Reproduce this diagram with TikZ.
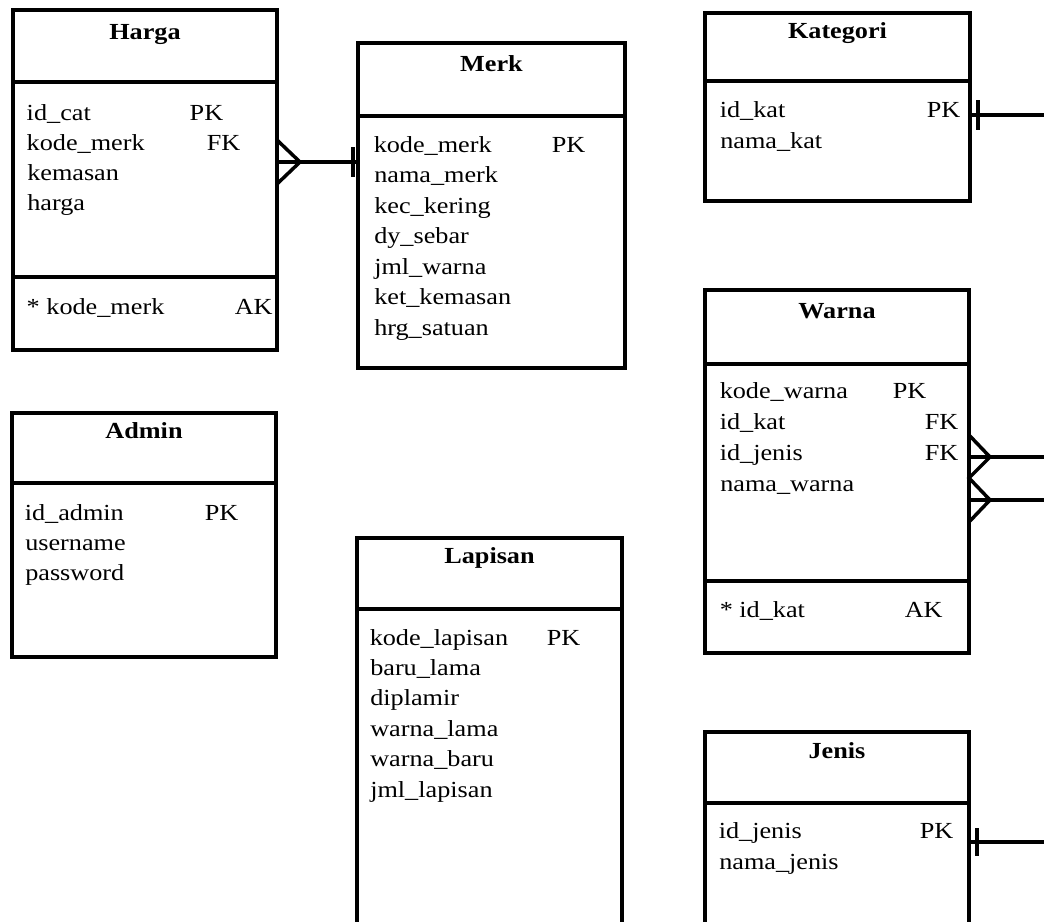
\documentclass[tikz,border=0pt]{standalone}
\usepackage{fontspec}
\setmainfont{Liberation Serif}[FakeStretch=1.14]
\tikzset{
  tbl/.style={draw, line width=3.5pt, anchor=north west, inner sep=0pt, outer sep=0pt},
  ttl/.style={anchor=base, inner sep=0pt, font=\fontsize{23}{30}\selectfont\bfseries},
  row/.style={anchor=base west, inner sep=0pt}
}
\begin{document}
\begin{tikzpicture}[x=1pt, y=-1pt, line width=3.5pt, font=\fontsize{23}{30}\selectfont]
    \useasboundingbox (0,0) rectangle (1044,921);
    \clip (0,0) rectangle (1044,921);

    \node[tbl, minimum width=264, minimum height=340] (harga) at (13,10) {};
    \draw (harga.west |- 0,82) -- (harga.east |- 0,82);
    \draw (harga.west |- 0,277) -- (harga.east |- 0,277);
    \node[ttl] (hargaT) at (harga.north |- 0,39) {Harga};
    \foreach \n/\w/\k [count=\i] in {id\_cat/163pt/PK, kode\_merk/180pt/FK, kemasan/0pt/{}, harga/0pt/{}}
      \node[row] (harga-\i) at (25,{90+30*\i}) {\makebox[\w][l]{\n}\k};
    \node[row] (hargaAK) at (25,314) {\makebox[208pt][l]{* kode\_merk}AK};

    \node[tbl, minimum width=267, minimum height=325] (merk) at (358,43) {};
    \draw (merk.west |- 0,116) -- (merk.east |- 0,116);
    \node[ttl] (merkT) at (merk.north |- 0,71) {Merk};
    \foreach \n/\w/\k [count=\i] in {kode\_merk/178pt/PK, nama\_merk/0pt/{}, kec\_kering/0pt/{}, dy\_sebar/0pt/{}, jml\_warna/0pt/{}, ket\_kemasan/0pt/{}, hrg\_satuan/0pt/{}}
      \node[row] (merk-\i) at (372,{121.5+30.5*\i}) {\makebox[\w][l]{\n}\k};

    \node[tbl, minimum width=264, minimum height=244] (admin) at (12,413) {};
    \draw (admin.west |- 0,483) -- (admin.east |- 0,483);
    \node[ttl] (adminT) at (admin.north |- 0,438) {Admin};
    \foreach \n/\w/\k [count=\i] in {id\_admin/180pt/PK, username/0pt/{}, password/0pt/{}}
      \node[row] (admin-\i) at (23,{490+30*\i}) {\makebox[\w][l]{\n}\k};

    \node[tbl, minimum width=265, minimum height=420] (lapisan) at (357,538) {};
    \draw (lapisan.west |- 0,609) -- (lapisan.east |- 0,609);
    \node[ttl] (lapisanT) at (lapisan.north |- 0,563) {Lapisan};
    \foreach \n/\w/\k [count=\i] in {kode\_lapisan/177pt/PK, baru\_lama/0pt/{}, diplamir/0pt/{}, warna\_lama/0pt/{}, warna\_baru/0pt/{}, jml\_lapisan/0pt/{}}
      \node[row] (lapisan-\i) at (368,{614.6+30.4*\i}) {\makebox[\w][l]{\n}\k};

    \node[tbl, minimum width=265, minimum height=188] (kategori) at (705,13) {};
    \draw (kategori.west |- 0,81) -- (kategori.east |- 0,81);
    \node[ttl] (kategoriT) at (kategori.north |- 0,38) {Kategori};
    \foreach \n/\w/\k [count=\i] in {id\_kat/207pt/PK, nama\_kat/0pt/{}}
      \node[row] (kategori-\i) at (718,{86+31*\i}) {\makebox[\w][l]{\n}\k};

    \node[tbl, minimum width=264, minimum height=363] (warna) at (705,290) {};
    \draw (warna.west |- 0,364) -- (warna.east |- 0,364);
    \draw (warna.west |- 0,581) -- (warna.east |- 0,581);
    \node[ttl] (warnaT) at (warna.north |- 0,318) {Warna};
    \foreach \n/\w/\k [count=\i] in {kode\_warna/173pt/PK, id\_kat/205pt/FK, id\_jenis/205pt/FK, nama\_warna/0pt/{}}
      \node[row] (warna-\i) at (718,{367+31*\i}) {\makebox[\w][l]{\n}\k};
    \node[row] (warnaAK) at (718,617) {\makebox[185pt][l]{* id\_kat}AK};

    \node[tbl, minimum width=264, minimum height=250] (jenis) at (705,732) {};
    \draw (jenis.west |- 0,803) -- (jenis.east |- 0,803);
    \node[ttl] (jenisT) at (jenis.north |- 0,758) {Jenis};
    \foreach \n/\w/\k [count=\i] in {id\_jenis/201pt/PK, nama\_jenis/0pt/{}}
      \node[row] (jenis-\i) at (717,{807+31*\i}) {\makebox[\w][l]{\n}\k};

    \coordinate (hm) at (harga.east |- 0,162);
    \draw (hm) -- (merk.west |- hm);
    \draw (hm) ++(0,-22) -- ++(23,22) -- ++(-23,22);
    \draw (merk.west |- hm) ++(-5,-15) -- ++(0,30);

    \coordinate (kr) at (1044,115);
    \draw (kategori.east |- kr) -- (kr);
    \draw (kategori.east |- kr) ++(8,-15) -- ++(0,30);

    \coordinate (wr1) at (1044,457);
    \coordinate (wr2) at (1044,500);
    \draw (warna.east |- wr1) -- (wr1);
    \draw (warna.east |- wr2) -- (wr2);
    \draw (warna.east |- wr1) ++(0,-22) -- ++(21,22) -- ++(-21,21) -- ++(21,22) -- ++(-21,22);

    \coordinate (jr) at (1044,842);
    \draw (jenis.east |- jr) -- (jr);
    \draw (jenis.east |- jr) ++(8,-14) -- ++(0,28);
\end{tikzpicture}
\end{document}
